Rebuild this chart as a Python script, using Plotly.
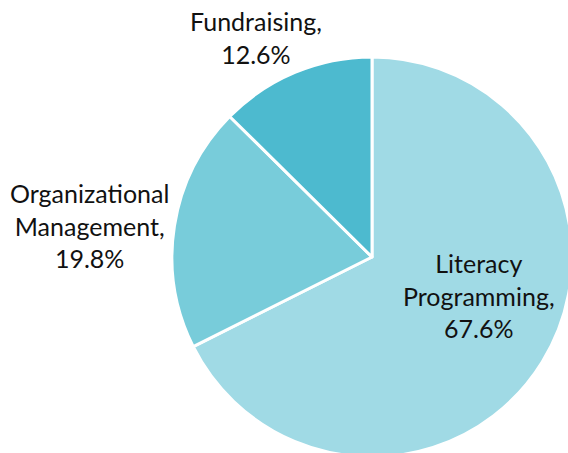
import plotly.graph_objects as go

categories = ["Literacy Programming", "Organizational Management", "Fundraising"]
values = [67.6, 19.8, 12.6]
colors = ["#A0DAE5", "#78CCDA", "#4DBACF"]
label_lines = [["Literacy", "Programming,"], ["Organizational", "Management,"], ["Fundraising,"]]
# label anchor positions in pixels (center x, center y) on the canvas
label_pos_px = [(479, 295), (89, 225), (256, 37)]

W, H = 572, 457

fig = go.Figure(go.Pie(
    labels=categories,
    values=values,
    sort=False,
    direction="clockwise",
    rotation=0,
    marker=dict(colors=colors, line=dict(color="white", width=3)),
    textinfo="none",
    hoverinfo="label+percent",
    showlegend=False,
    domain=dict(x=[172 / W, 1.0], y=[0.0, 400 / H]),
))

annotations = []
for lines, val, (px, py) in zip(label_lines, values, label_pos_px):
    text = "<br>".join(lines + [f"{val:.1f}%"])
    annotations.append(dict(
        x=px / W, y=1 - py / H, xref="paper", yref="paper",
        text=text, showarrow=False, xanchor="center", yanchor="middle",
        align="center", font=dict(family="Lato", size=25, color="#111111"),
    ))

fig.update_layout(
    width=W, height=H,
    margin=dict(l=0, r=0, t=0, b=0),
    paper_bgcolor="white", plot_bgcolor="white",
    annotations=annotations,
)

fig.write_html(
    "out.html",
    config={"displayModeBar": False},
    post_script="document.body.style.margin='0';document.body.style.overflow='hidden';",
)
